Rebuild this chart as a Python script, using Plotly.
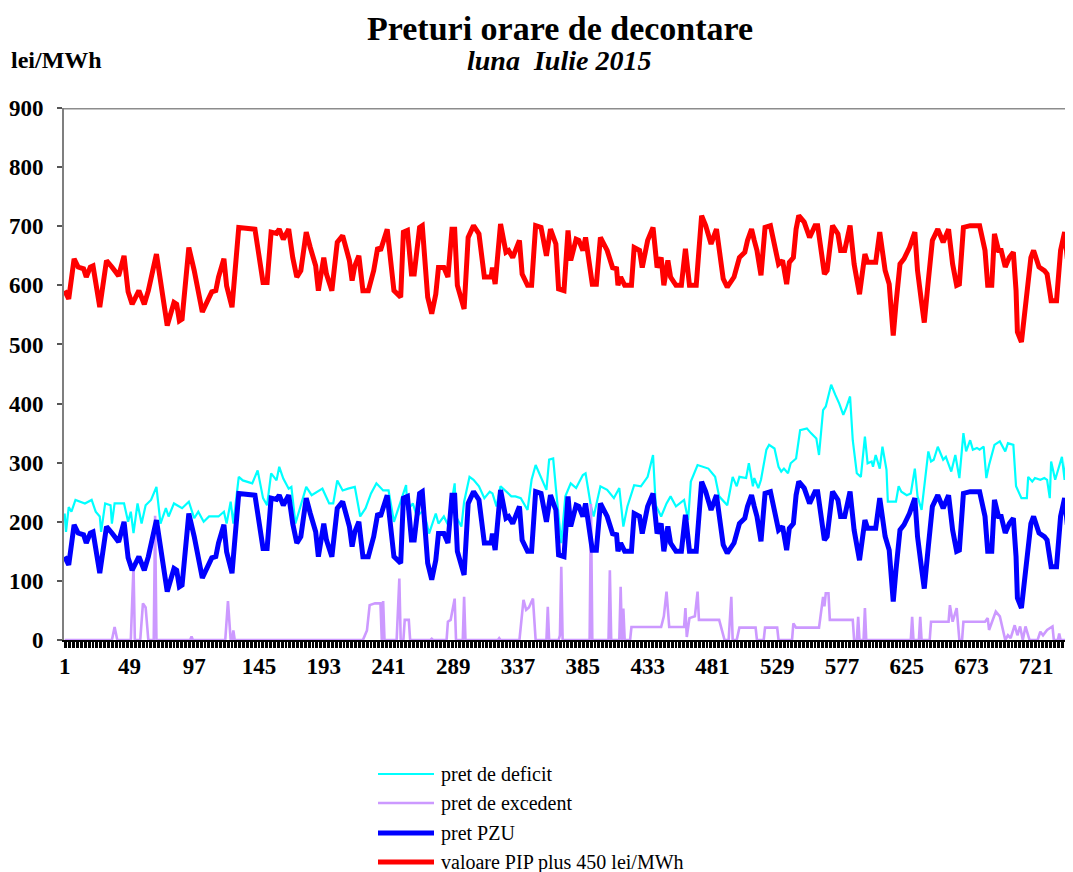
import plotly.graph_objects as go

# ---------------- data (hour of month -> lei/MWh) ----------------
deficit_hours = [1, 2, 4, 6, 9, 16, 21, 24, 27, 28, 31, 35, 36, 38, 45, 48, 50, 52, 55, 58, 61, 65, 69, 72, 76, 78, 82, 88, 93, 97,
                 100, 104, 108, 115, 119, 121, 124, 126, 130, 133, 140, 144, 148, 151, 154, 158, 160, 163, 167, 169, 172, 176,
                 180, 184, 192, 197, 200, 203, 207, 211, 216, 220, 224, 228, 232, 237, 241, 245, 254, 255, 259, 262, 267, 271,
                 276, 278, 282, 285, 290, 291, 295, 297, 301, 304, 308, 312, 316, 318, 321, 324, 328, 332, 335, 339, 344, 347,
                 350, 354, 358, 360, 363, 365, 369, 372, 376, 380, 385, 387, 391, 393, 398, 403, 408, 412, 415, 418, 423, 428,
                 433, 437, 439, 443, 447, 450, 454, 460, 463, 465, 470, 478, 483, 486, 492, 496, 499, 501, 506, 508, 511, 512,
                 515, 517, 521, 523, 527, 530, 532, 534, 537, 539, 543, 546, 551, 554, 558, 560, 563, 565, 569, 572, 575, 578,
                 580, 583, 585, 588, 591, 594, 596, 599, 600, 602, 605, 607, 610, 611, 617, 619, 621, 625, 628, 631, 633, 636,
                 638, 641, 643, 645, 648, 652, 654, 658, 661, 664, 667, 669, 672, 674, 677, 679, 682, 684, 686, 690, 694, 698,
                 700, 704, 706, 710, 714, 715, 718, 720, 724, 727, 729, 731, 732, 735, 740, 742, 744]
deficit_values = [214, 183, 225, 217, 237, 231, 237, 217, 209, 183, 231, 228, 197, 231, 231, 200, 217, 181, 231, 197, 228, 237, 259,
                  197, 223, 209, 231, 223, 234, 206, 217, 200, 209, 209, 217, 197, 234, 197, 276, 270, 265, 287, 240, 228, 282,
                  270, 293, 273, 256, 259, 197, 228, 259, 245, 256, 231, 231, 270, 253, 256, 259, 209, 223, 248, 265, 253, 253,
                  200, 262, 220, 231, 209, 220, 180, 214, 197, 209, 195, 265, 209, 192, 234, 276, 271, 260, 240, 251, 248, 226,
                  260, 251, 243, 243, 240, 220, 271, 296, 274, 254, 305, 307, 257, 164, 243, 265, 257, 279, 282, 226, 209, 260,
                  254, 240, 257, 192, 226, 262, 260, 276, 313, 228, 209, 231, 243, 226, 237, 203, 268, 296, 290, 276, 243, 228,
                  276, 260, 276, 274, 299, 260, 274, 257, 271, 322, 330, 324, 293, 285, 290, 282, 299, 307, 355, 358, 350, 341,
                  313, 389, 395, 432, 415, 400, 381, 392, 412, 338, 282, 276, 344, 299, 302, 293, 313, 290, 327, 288, 234, 234,
                  260, 251, 245, 248, 290, 243, 220, 260, 319, 302, 305, 327, 305, 310, 285, 313, 274, 350, 319, 338, 322, 325,
                  322, 327, 274, 296, 330, 336, 319, 333, 330, 260, 240, 240, 276, 268, 274, 271, 274, 271, 240, 302, 271, 310,
                  271, 330]

excedent_hours = [1, 36, 38, 40, 50, 52, 53, 57, 59, 61, 63, 67, 68, 69, 94, 95, 96, 120, 122, 124, 125, 126, 127, 222, 225, 227,
                  231, 235, 236, 237, 238, 247, 249, 250, 252, 253, 256, 257, 272, 273, 274, 284, 285, 287, 290, 291, 296, 297,
                  298, 322, 323, 324, 338, 341, 343, 345, 348, 350, 358, 359, 360, 367, 368, 369, 370, 390, 391, 392, 404, 405,
                  406, 412, 413, 414, 415, 416, 420, 421, 443, 445, 447, 449, 460, 461, 462, 464, 468, 470, 471, 486, 490, 493,
                  495, 496, 499, 501, 513, 514, 519, 520, 529, 530, 540, 541, 543, 560, 563, 564, 565, 567, 568, 585, 586, 588,
                  589, 590, 593, 594, 595, 628, 629, 630, 634, 635, 636, 642, 643, 656, 657, 659, 662, 664, 666, 667, 683, 685,
                  686, 688, 691, 694, 696, 698, 700, 702, 705, 707, 709, 711, 713, 716, 722, 724, 726, 729, 733, 734, 737, 738,
                  739, 744]
excedent_values = [0, 0, 22, 0, 0, 125, 0, 0, 62, 55, 0, 0, 210, 0, 0, 6, 0, 0, 66, 0, 0, 16, 0, 0, 16, 59, 62, 62, 0, 66, 0, 0,
                   104, 0, 0, 34, 34, 0, 0, 2, 0, 0, 31, 34, 70, 0, 0, 73, 0, 0, 3, 0, 0, 68, 51, 55, 70, 0, 0, 56, 0, 0, 8, 124,
                   0, 0, 230, 0, 0, 118, 0, 0, 90, 0, 53, 0, 0, 22, 22, 40, 82, 22, 22, 54, 5, 37, 40, 82, 34, 34, 0, 0, 73, 0,
                   0, 21, 21, 0, 0, 21, 21, 0, 0, 28, 21, 21, 73, 57, 79, 79, 34, 34, 0, 0, 39, 0, 0, 54, 0, 0, 39, 0, 0, 39, 0,
                   0, 31, 31, 59, 31, 54, 0, 0, 31, 31, 37, 17, 31, 48, 40, 17, 0, 8, 3, 25, 8, 23, 0, 23, 0, 0, 14, 8, 17, 23,
                   0, 0, 11, 0, 0]

pzu_hours = [1, 4, 8, 11, 15, 17, 20, 22, 27, 32, 36, 41, 45, 48, 51, 56, 60, 63, 69, 73, 77, 82, 84, 86, 88, 93, 97, 103, 110,
             113, 115, 119, 121, 125, 130, 142, 148, 151, 154, 158, 160, 163, 167, 170, 173, 176, 180, 183, 187, 189, 193, 195,
             199, 203, 207, 212, 214, 216, 219, 222, 226, 230, 233, 235, 240, 245, 250, 252, 255, 258, 260, 264, 266, 270, 273,
             276, 278, 282, 285, 288, 290, 292, 297, 300, 304, 308, 312, 317, 318, 320, 324, 328, 330, 333, 338, 340, 344, 347,
             350, 354, 358, 361, 365, 367, 371, 374, 376, 380, 382, 385, 387, 392, 395, 398, 403, 407, 410, 411, 413, 416, 421,
             423, 427, 429, 433, 437, 440, 443, 445, 448, 450, 454, 458, 461, 464, 469, 473, 476, 480, 484, 489, 492, 497, 501,
             505, 507, 510, 512, 514, 517, 520, 524, 528, 530, 533, 536, 538, 541, 543, 545, 549, 553, 557, 559, 564, 566, 570,
             574, 576, 579, 583, 586, 590, 594, 596, 602, 605, 609, 612, 615, 617, 620, 623, 627, 631, 633, 636, 638, 641, 644,
             648, 652, 656, 659, 662, 664, 667, 672, 679, 683, 685, 688, 690, 693, 695, 698, 701, 704, 706, 707, 710, 713, 717,
             719, 723, 727, 729, 732, 736, 739, 742, 744]
pzu_values = [141, 127, 195, 181, 178, 164, 181, 183, 113, 192, 181, 166, 200, 139, 118, 141, 118, 141, 203, 141, 82, 121, 118,
              90, 93, 214, 175, 105, 139, 141, 164, 195, 149, 113, 248, 245, 155, 155, 240, 238, 245, 228, 245, 197, 164, 175,
              240, 214, 183, 141, 197, 169, 141, 223, 234, 192, 158, 183, 200, 141, 141, 175, 214, 209, 245, 141, 130, 240, 243,
              169, 169, 248, 251, 130, 102, 135, 180, 180, 164, 245, 245, 150, 110, 231, 251, 237, 164, 164, 180, 152, 254, 206,
              209, 197, 226, 169, 150, 150, 251, 248, 200, 245, 220, 144, 141, 243, 192, 228, 226, 209, 231, 152, 152, 231, 209,
              180, 178, 150, 164, 150, 150, 214, 209, 180, 226, 248, 180, 197, 150, 192, 164, 150, 150, 212, 150, 150, 268, 251,
              220, 245, 161, 147, 164, 197, 206, 226, 245, 226, 209, 167, 248, 251, 200, 186, 192, 152, 189, 197, 245, 268, 257,
              231, 251, 251, 169, 175, 251, 237, 209, 209, 251, 186, 135, 203, 189, 189, 240, 175, 152, 65, 118, 186, 195, 214,
              240, 175, 121, 87, 158, 226, 245, 223, 245, 186, 150, 152, 248, 251, 251, 209, 150, 150, 237, 209, 209, 181, 197,
              206, 141, 71, 54, 118, 197, 209, 181, 175, 169, 124, 124, 209, 240, 195]

pip450_hours = pzu_hours
pip450_values = [591, 577, 645, 631, 628, 614, 631, 633, 563, 642, 631, 616, 650, 589, 568, 591, 568, 591, 653, 591, 532, 571,
                 568, 540, 543, 664, 625, 555, 589, 591, 614, 645, 599, 563, 698, 695, 605, 605, 690, 688, 695, 678, 695, 647,
                 614, 625, 690, 664, 633, 591, 647, 619, 591, 673, 684, 642, 608, 633, 650, 591, 591, 625, 664, 659, 695, 591,
                 580, 690, 693, 619, 619, 698, 701, 580, 552, 585, 630, 630, 614, 695, 695, 600, 560, 681, 701, 687, 614, 614,
                 630, 602, 704, 656, 659, 647, 676, 619, 600, 600, 701, 698, 650, 695, 670, 594, 591, 693, 642, 678, 676, 659,
                 681, 602, 602, 681, 659, 630, 628, 600, 614, 600, 600, 664, 659, 630, 676, 698, 630, 647, 600, 642, 614, 600,
                 600, 662, 600, 600, 718, 701, 670, 695, 611, 597, 614, 647, 656, 676, 695, 676, 659, 617, 698, 701, 650, 636,
                 642, 602, 639, 647, 695, 718, 707, 681, 701, 701, 619, 625, 701, 687, 659, 659, 701, 636, 585, 653, 639, 639,
                 690, 625, 602, 515, 568, 636, 645, 664, 690, 625, 571, 537, 608, 676, 695, 673, 695, 636, 600, 602, 698, 701,
                 701, 659, 600, 600, 687, 659, 659, 631, 647, 656, 591, 521, 504, 568, 647, 659, 631, 625, 619, 574, 574, 659,
                 690, 645]

x_tick_labels = [1, 49, 97, 145, 193, 241, 289, 337, 385, 433, 481, 529, 577, 625, 673, 721]
y_tick_labels = [0, 100, 200, 300, 400, 500, 600, 700, 800, 900]

series_names = ["pret de deficit", "pret de excedent", "pret PZU", "valoare PIP plus 450 lei/MWh"]

# ---------------- figure ----------------
SERIF = "Liberation Serif"
PAGE_OFF = 8                      # the page body margin offsets the figure by 8px
W, H = 1073 - PAGE_OFF, 872 - PAGE_OFF
ML, MR, MT, MB = 64 - PAGE_OFF, 5, 108 - PAGE_OFF, 232
PW, PH = W - ML - MR, H - MT - MB


def px_x(p):
    """page pixel x -> paper coordinate"""
    return (p - PAGE_OFF - ML) / PW


def px_y(p):
    """page pixel y -> paper coordinate"""
    return (H - MB - (p - PAGE_OFF)) / PH


fig = go.Figure()

styles = [("#00FFFF", 2.2), ("#CC99FF", 2.6), ("#0000FF", 5), ("#FF0000", 5)]
data = [(deficit_hours, deficit_values), (excedent_hours, excedent_values),
        (pzu_hours, pzu_values), (pip450_hours, pip450_values)]

for (xs, ys), (col, w), name in zip(data, styles, series_names):
    fig.add_trace(go.Scatter(
        x=xs, y=ys, mode="lines", name=name,
        line=dict(color=col, width=w), showlegend=False, hoverinfo="skip"))

# legend drawn below the plot (long line samples like the original)
legend_rows_px = [774, 803, 833, 862]
shapes = [dict(type="line", xref="paper", yref="y", x0=0, x1=1.005, y0=900, y1=900,
               line=dict(color="#8c8c8c", width=3), layer="above")]
annotations = []
for (col, w), name, ypx in zip(styles, series_names, legend_rows_px):
    shapes.append(dict(type="line", xref="paper", yref="paper",
                       x0=px_x(378), x1=px_x(434), y0=px_y(ypx), y1=px_y(ypx),
                       line=dict(color=col, width=w)))
    annotations.append(dict(text=name, xref="paper", yref="paper",
                            x=px_x(439), y=px_y(ypx), xanchor="left", yanchor="middle",
                            showarrow=False, font=dict(family=SERIF, size=20, color="black")))

annotations += [
    dict(text="<b>Preturi orare de decontare</b>", xref="paper", yref="paper",
         x=px_x(560), y=px_y(28), xanchor="center", yanchor="middle", showarrow=False,
         font=dict(family=SERIF, size=34, color="black")),
    dict(text="<b><i>luna\u00a0 Iulie 2015</i></b>", xref="paper", yref="paper",
         x=px_x(559), y=px_y(60), xanchor="center", yanchor="middle", showarrow=False,
         font=dict(family=SERIF, size=28, color="black")),
    dict(text="<b>lei/MWh</b>", xref="paper", yref="paper",
         x=px_x(9), y=px_y(60), xanchor="left", yanchor="middle", showarrow=False,
         font=dict(family=SERIF, size=24, color="black")),
]

fig.update_layout(
    width=W, height=H,
    margin=dict(l=ML, r=MR, t=MT, b=MB),
    paper_bgcolor="white", plot_bgcolor="white",
    showlegend=False,
    xaxis=dict(
        range=[0.5, 744.5], showgrid=False, zeroline=False, automargin=False,
        showline=True, linecolor="#000000", linewidth=1.5,
        tickmode="array", tickvals=x_tick_labels, ticktext=[str(v) for v in x_tick_labels],
        ticks="", ticklabelstandoff=5,
        tickfont=dict(family=SERIF, size=23, color="black", weight="bold"),
        minor=dict(ticks="outside", tick0=0.5, dtick=1, ticklen=6, tickwidth=1, tickcolor="#000000"),
    ),
    yaxis=dict(
        range=[0, 900], showgrid=False, zeroline=False, automargin=False,
        showline=True, linecolor="#7f7f7f", linewidth=2,
        tickmode="array", tickvals=y_tick_labels, ticktext=[str(v) for v in y_tick_labels],
        ticks="outside", ticklen=5, tickwidth=1.5, tickcolor="#555555", ticklabelstandoff=9,
        tickfont=dict(family=SERIF, size=23, color="black", weight="bold"),
    ),
    annotations=annotations,
    shapes=shapes,
)

fig.write_html("out.html")
